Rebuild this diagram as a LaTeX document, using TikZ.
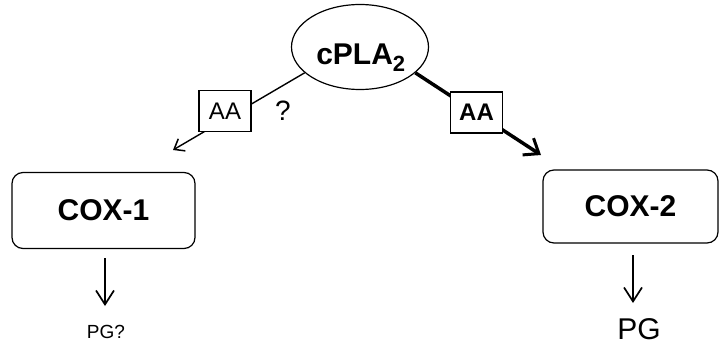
\documentclass[tikz,border=0pt]{standalone}
\usepackage{fontspec}
\setmainfont{Liberation Sans}
\usetikzlibrary{arrows.meta,shapes.geometric}
\begin{document}
\begin{tikzpicture}[x=1pt,y=-1pt,
  enz/.style={draw,line width=1.2pt,rounded corners=11pt,minimum width=183pt,minimum height=76pt,font=\fontsize{30}{32}\selectfont\bfseries},
  aabox/.style={draw,fill=white,line width=1.2pt,minimum width=52pt,minimum height=41pt,inner sep=0pt,font=\fontsize{24}{26}\selectfont},
  thin/.style={line width=1.4pt,-{Straight Barb[length=9pt,width=14pt,line width=1.5pt]}},
  thick/.style={line width=3.5pt,-{Straight Barb[length=13pt,width=20pt,line width=3pt]}},
  down/.style={line width=1.7pt,-{Straight Barb[length=14pt,width=18pt,line width=1.7pt]}},
  lbl/.style={inner sep=0pt,anchor=base}]
\useasboundingbox (0,0) rectangle (723,345);
\node[draw,ellipse,line width=1.2pt,minimum width=137pt,minimum height=85pt,inner sep=0pt] (cpla) at (360,47) {};
\node[lbl,font=\fontsize{30}{32}\selectfont\bfseries] (cplat) at (361,65) {cPLA\textsubscript{\fontsize{22}{24}\selectfont 2}};
\node[enz] (cox1) at (103.5,210.5) {COX-1};
\node[enz,minimum width=175pt,minimum height=73pt] (cox2) at (630.5,206.5) {COX-2};
\coordinate (lend) at (173,150);
\coordinate (rend) at (541,155);
\draw[thin] (cpla.205) -- (lend);
\draw[thick] (cpla.-25) -- (rend);
\node[aabox] (aa1) at (225,111) {AA};
\node[aabox,font=\fontsize{24}{26}\selectfont\bfseries] (aa2) at (476.5,112.5) {AA};
\node[lbl,font=\fontsize{28}{30}\selectfont] (q) at (283,120) {?};
\node[lbl,font=\fontsize{19}{21}\selectfont] (pg1) at (106,338) {PG?};
\node[lbl,font=\fontsize{30}{32}\selectfont] (pg2) at (639,339) {PG};
\coordinate (d1a) at (105,258);
\coordinate (d1b) at (105,306);
\coordinate (d2a) at (633,255);
\coordinate (d2b) at (633,303);
\draw[down] (d1a) -- (d1b);
\draw[down] (d2a) -- (d2b);
\end{tikzpicture}
\end{document}
